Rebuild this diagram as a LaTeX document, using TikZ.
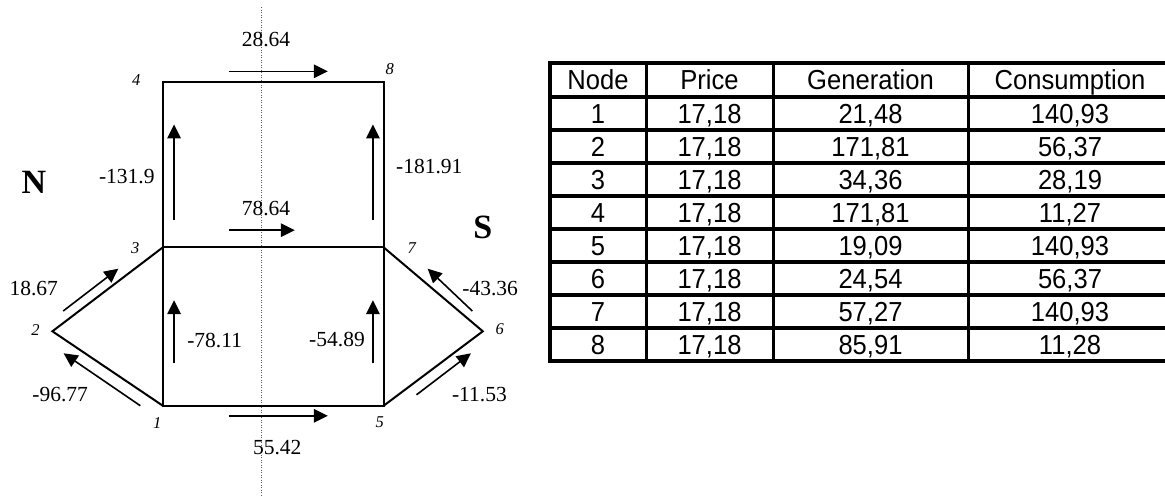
\documentclass[tikz,border=0pt]{standalone}
\usepackage{fontspec}
\setmainfont{Liberation Serif}
\newfontfamily\tabfont{Liberation Sans}[FakeStretch=0.93]
\usetikzlibrary{arrows.meta}
\tikzset{
  edgeline/.style={line width=2pt},
  flow/.style={line width=1.6pt,-{Triangle[length=14pt,width=13.5pt]}},
  lbl/.style={font=\fontsize{21.5}{23}\selectfont, inner sep=0pt, text height=14.5pt, text depth=0pt},
  nlab/.style={font=\fontsize{16.5}{18}\selectfont\itshape, inner sep=0pt},
  zone/.style={font=\fontsize{34}{36}\selectfont\bfseries, inner sep=0pt},
  cell/.style={font=\tabfont\fontsize{27.5}{29}\selectfont, inner sep=0pt, text height=19.7pt, text depth=0pt},
  hrule/.style={line width=4pt},
  vrule/.style={line width=3pt},
  divider/.style={line width=1pt, black!65, dash pattern=on 1pt off 1.5pt}
}
\begin{document}
\begin{tikzpicture}[x=1pt,y=-1pt]
\useasboundingbox (0,0) rectangle (1165,496);

% divider
\coordinate (dtop) at (261.7,7);
\coordinate (dbot) at (261.7,496);
\draw[divider] (dtop) -- (dbot);

% network nodes
\coordinate (n1) at (162.8,405.7);
\coordinate (n2) at (52.4,331.3);
\coordinate (n3) at (162.8,247.4);
\coordinate (n4) at (162.8,81.8);
\coordinate (n5) at (383.7,405.7);
\coordinate (n6) at (482.8,331.3);
\coordinate (n7) at (383.7,247.4);
\coordinate (n8) at (383.7,81.8);

\draw[edgeline] (n4) -- (n8) -- (n7) -- (n5) -- (n1) -- (n3) -- cycle;
\draw[edgeline] (n3) -- (n7);
\draw[edgeline] (n1) -- (n2) -- (n3);
\draw[edgeline] (n5) -- (n6) -- (n7);

% node labels
\node[nlab] (l1) at (157.2,422.6) {1};
\node[nlab] (l2) at (35.5,329.6) {2};
\node[nlab] (l3) at (135.2,248.5) {3};
\node[nlab] (l4) at (136.2,80.1) {4};
\node[nlab] (l5) at (379.7,422.6) {5};
\node[nlab] (l6) at (499.7,329.6) {6};
\node[nlab] (l7) at (411.8,248.5) {7};
\node[nlab] (l8) at (389.8,69.3) {8};

% zone labels
\node[zone] (zn) at (33.8,181.9) {N};
\node[zone] (zs) at (482.8,227.2) {S};

% flow arrows
\coordinate (a1s) at (228.9,71.3);  \coordinate (a1e) at (327.9,71.3);
\coordinate (a2s) at (228.9,230.2); \coordinate (a2e) at (294.8,230.2);
\coordinate (a3s) at (174.1,219.7); \coordinate (a3e) at (174.1,124.4);
\coordinate (a4s) at (372.9,219.7); \coordinate (a4e) at (372.9,124.4);
\coordinate (a5s) at (174.1,363.4); \coordinate (a5e) at (174.1,300.2);
\coordinate (a6s) at (372.9,363.4); \coordinate (a6e) at (372.9,300.2);
\coordinate (a7s) at (228.9,415.8); \coordinate (a7e) at (327.9,415.8);
\coordinate (a8s) at (63.2,311);    \coordinate (a8e) at (118.3,268.7);
\coordinate (a9s) at (140.3,405.7); \coordinate (a9e) at (63.6,353.3);
\coordinate (a10s) at (472.3,311);  \coordinate (a10e) at (427.7,268.7);
\coordinate (a11s) at (416.5,394.8);\coordinate (a11e) at (470.9,353.3);
\foreach \k in {1,...,11} {\draw[flow] (a\k s) -- (a\k e);}

% flow values
\node[lbl] (f48) at (266,38.9) {28.64};
\node[lbl] (f37) at (266,207.9) {78.64};
\node[lbl] (f34) at (126.8,176.5) {-131.9};
\node[lbl] (f78) at (429.3,166.3) {-181.91};
\node[lbl] (f23) at (33.8,288.3) {18.67};
\node[lbl] (f12) at (60.2,393.8) {-96.77};
\node[lbl] (f13) at (214.7,340) {-78.11};
\node[lbl] (f57) at (337,339.5) {-54.89};
\node[lbl] (f67) at (490.2,288.3) {-43.36};
\node[lbl] (f56) at (479.4,393.8) {-11.53};
\node[lbl] (f15) at (277.2,446.9) {55.42};

% table lines
\foreach \yy in {62.5,97.2,130.2,163.2,196.2,229.2,262.2,295.2,328.2,361.2}
  {\draw[hrule] (548,\yy) -- (1165,\yy);}
\foreach \xx in {646,773,968}
  {\draw[vrule] (\xx,62.5) -- (\xx,361.2);}
\draw[line width=4pt] (550,60.5) -- (550,363.2);

% table text
\node[cell] (h1) at (598,79.85) {Node};
\node[cell] (h2) at (709.5,79.85) {Price};
\node[cell] (h3) at (870.5,79.85) {Generation};
\node[cell] (h4) at (1070,79.85) {Consumption};
\foreach \i/\g/\c in
  {1/{21,48}/{140,93}, 2/{171,81}/{56,37}, 3/{34,36}/{28,19}, 4/{171,81}/{11,27},
   5/{19,09}/{140,93}, 6/{24,54}/{56,37}, 7/{57,27}/{140,93}, 8/{85,91}/{11,28}} {
  \pgfmathsetmacro{\yc}{80.7+33*\i}
  \node[cell] (r\i a) at (598,\yc) {\i};
  \node[cell] (r\i b) at (709.5,\yc) {17,18};
  \node[cell] (r\i c) at (870.5,\yc) {\g};
  \node[cell] (r\i d) at (1070,\yc) {\c};
}
\end{tikzpicture}
\end{document}
